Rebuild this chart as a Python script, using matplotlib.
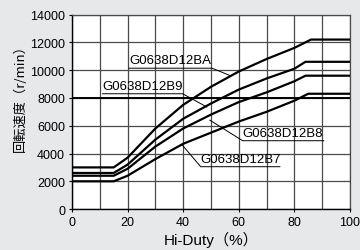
import matplotlib
matplotlib.use("Agg")
import matplotlib.pyplot as plt

plt.rcParams['font.family'] = ['Liberation Sans', 'Noto Sans CJK JP', 'DejaVu Sans']

# Hi-Duty (%) vs rotation speed (r/min)
duty_ba = [0, 15, 20, 30, 40, 50, 60, 70, 80, 86, 100]
speed_ba = [3000, 3000, 3700, 5800, 7500, 8800, 9900, 10800, 11600, 12200, 12200]
duty_b9 = [0, 15, 20, 30, 40, 50, 60, 70, 80, 84, 100]
speed_b9 = [2600, 2600, 3200, 5000, 6500, 7600, 8600, 9400, 10100, 10600, 10600]
duty_b8 = [0, 15, 20, 30, 40, 50, 60, 70, 80, 84, 100]
speed_b8 = [2400, 2400, 2900, 4500, 5800, 6800, 7700, 8400, 9200, 9600, 9600]
duty_b7 = [0, 15, 20, 30, 40, 50, 60, 70, 80, 85, 100]
speed_b7 = [2000, 2000, 2400, 3600, 4700, 5500, 6300, 7000, 7800, 8300, 8300]

models = ["G0638D12BA", "G0638D12B9", "G0638D12B8", "G0638D12B7"]
x_ticks = [0, 20, 40, 60, 80, 100]
y_ticks = [0, 2000, 4000, 6000, 8000, 10000, 12000, 14000]

fig = plt.figure(figsize=(3.6, 2.51), dpi=100, facecolor='#e7e8e9')
ax = fig.add_axes([0.2, 0.163, 0.772, 0.775])
ax.set_facecolor('white')

ax.set_xlim(0, 100)
ax.set_ylim(0, 14000)
ax.set_xticks(x_ticks)
ax.set_yticks(y_ticks)
ax.set_xticks(range(0, 101, 10), minor=True)
ax.grid(True, which='both', color='#4a4a4a', lw=0.9)
ax.axhline(8000, color='black', lw=1.4, zorder=2)
ax.tick_params(which='both', direction='out', length=2, width=0.8, labelsize=9, pad=3)
ax.tick_params(which='minor', length=0)
for side in ['top', 'right']:
    ax.spines[side].set_color('#4a4a4a')
    ax.spines[side].set_linewidth(0.9)
for side in ['left', 'bottom']:
    ax.spines[side].set_linewidth(1.0)

for xs, ys in [(duty_ba, speed_ba), (duty_b9, speed_b9), (duty_b8, speed_b8), (duty_b7, speed_b7)]:
    ax.plot(xs, ys, color='black', lw=1.6, zorder=3, solid_joinstyle='round')

# labels with underline and leader line
label_pos = [
    (20.5, 50.4, 10140, 57.0, 9600),
    (11.0, 39.8, 8300, 48.5, 7350),
    (61.4, 90.6, 4920, 49.6, 6400),
    (46.3, 74.8, 3050, 39.5, 4650),
]
for name, (x0, x1, yu, xt, yt) in zip(models, label_pos):
    ax.text(x0, yu + 150, name, fontsize=9.5, ha='left', va='bottom', zorder=4)
    if xt > x1:
        ax.plot([x0, x1, xt], [yu, yu, yt], color='black', lw=0.7, zorder=4)
    else:
        ax.plot([x1, x0, xt], [yu, yu, yt], color='black', lw=0.7, zorder=4)

ax.set_xlabel('Hi-Duty（%）', fontsize=11, labelpad=2)
fig.text(0.055, 0.62, '回転速度（r/min）', rotation=90, fontsize=9.5,
         ha='center', va='center', family=['Noto Sans CJK JP', 'DejaVu Sans'])

fig.savefig('out.png', dpi=100, facecolor=fig.get_facecolor())
